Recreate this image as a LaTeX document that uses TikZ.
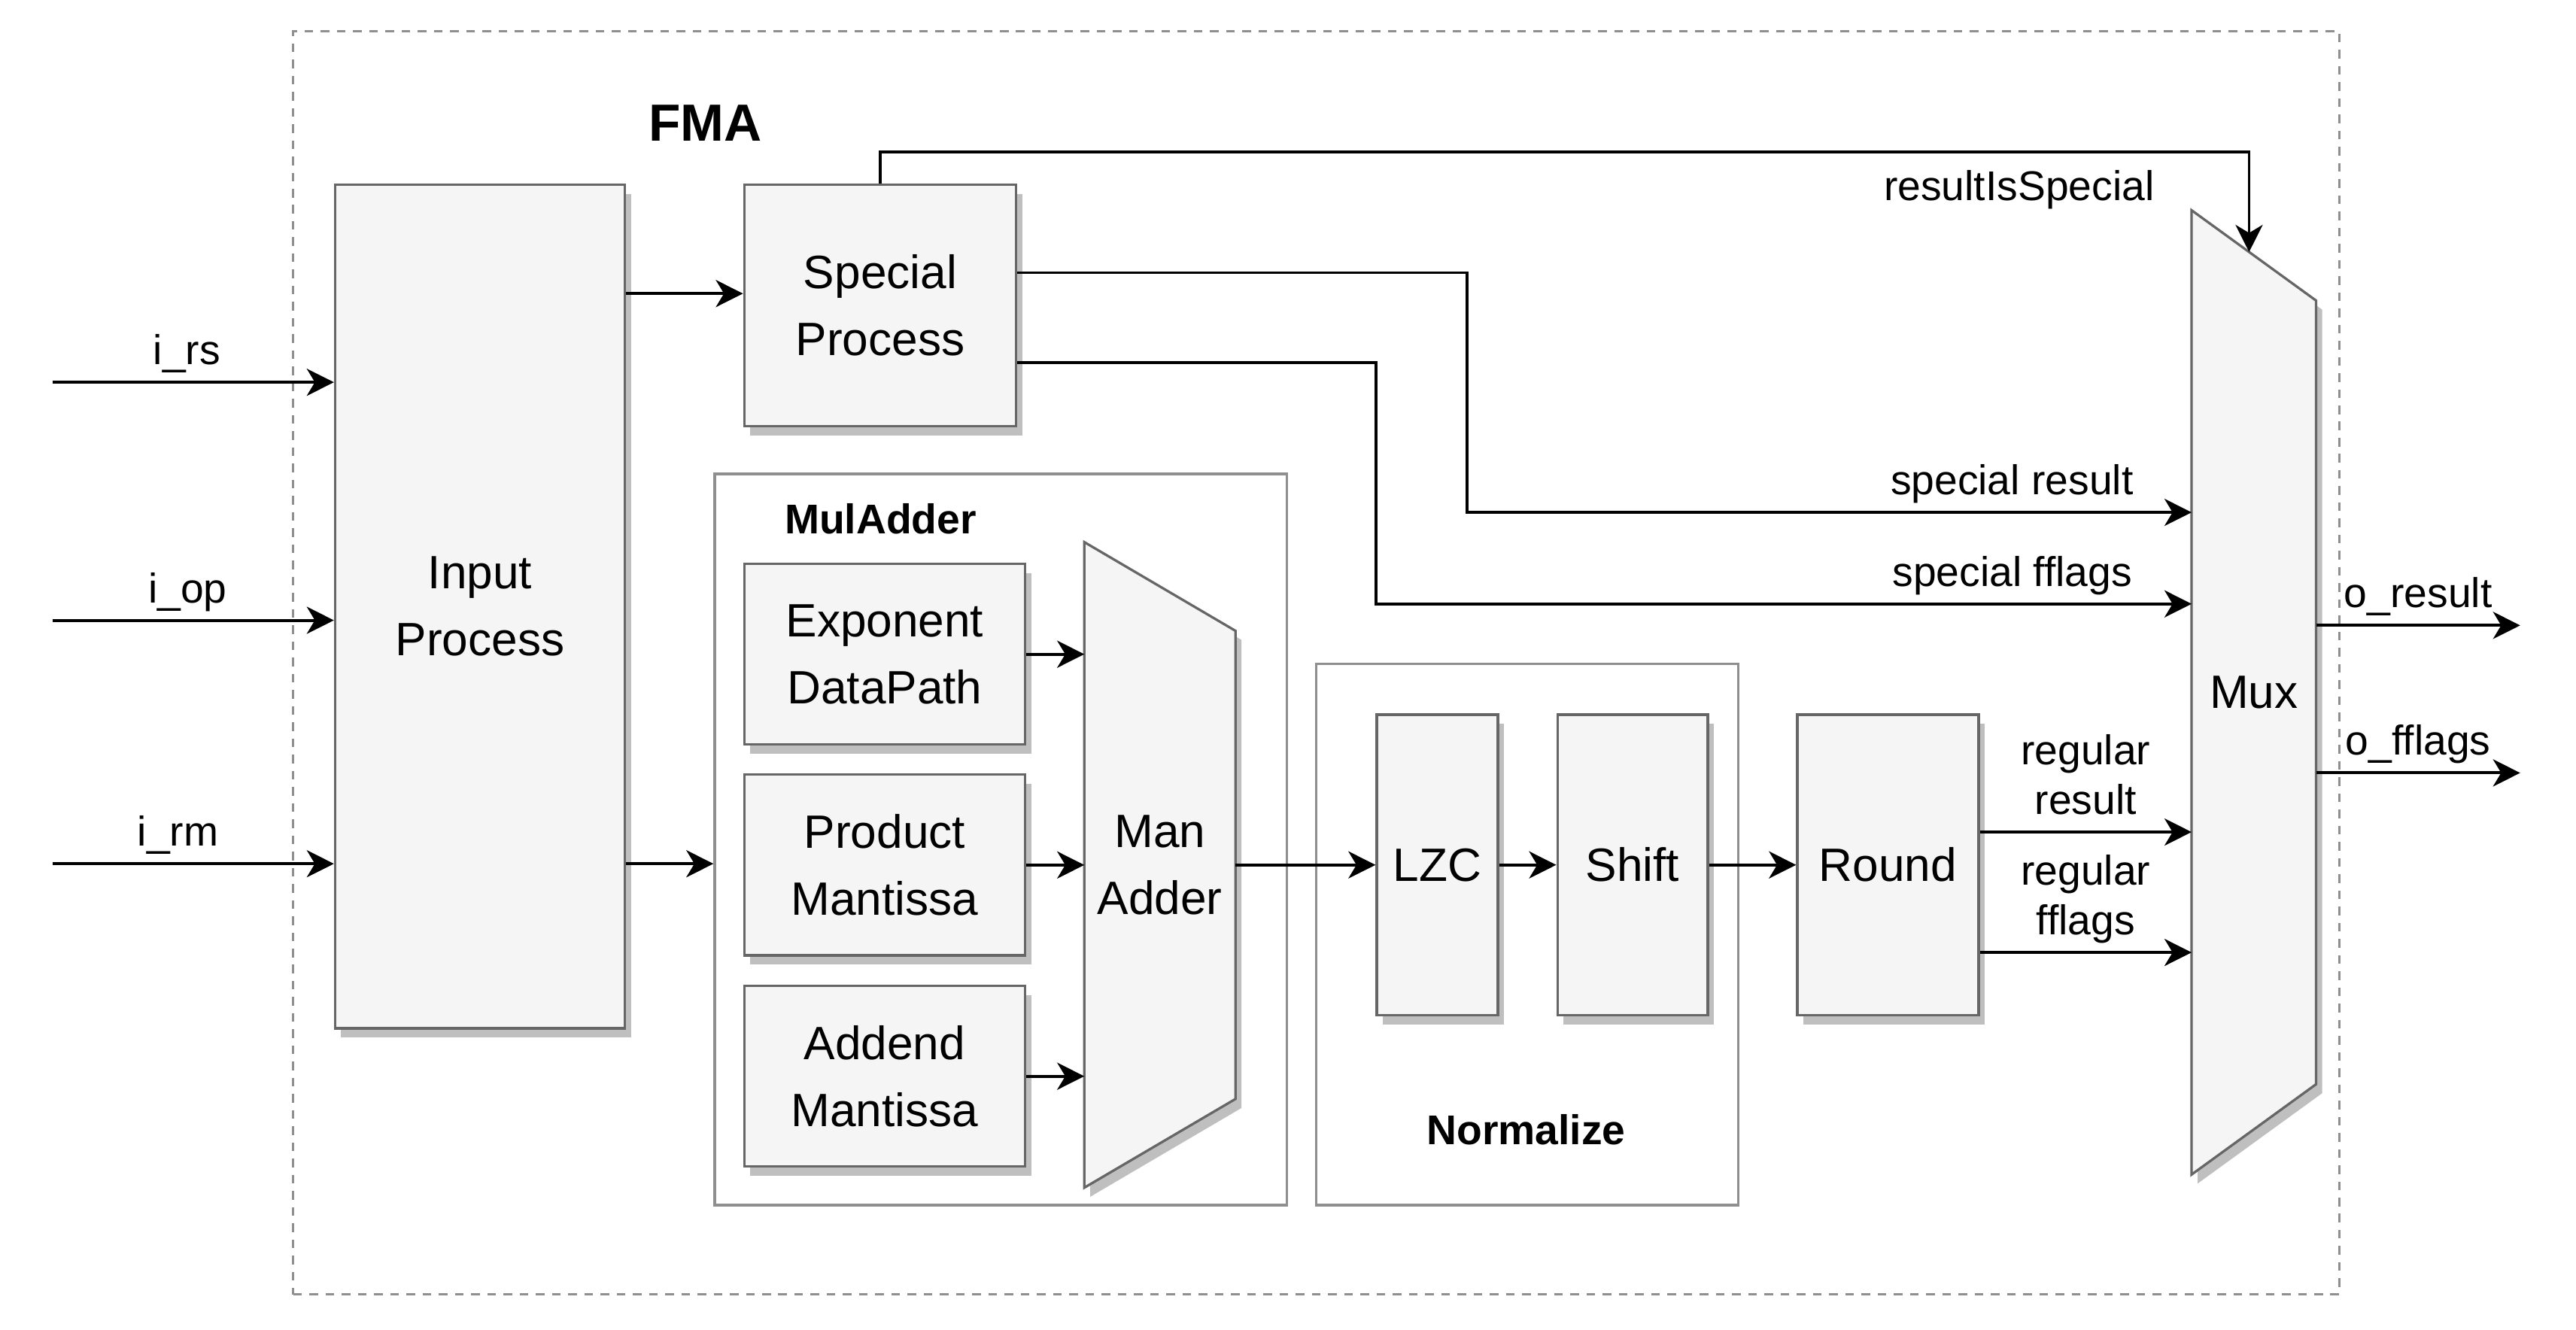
\documentclass[tikz,border=0pt]{standalone}
\usepackage{fontspec}
\setmainfont{Liberation Sans}
\usetikzlibrary{arrows.meta,calc,shadows,backgrounds}
\definecolor{boxfill}{HTML}{F5F5F5}
\definecolor{boxline}{HTML}{666666}
\definecolor{shadowgray}{HTML}{BFBFBF}
\definecolor{frameline}{HTML}{8F8F8F}
\newcommand{\boxfont}{\fontsize{16.2pt}{23.2pt}\selectfont}
\newcommand{\lblfont}{\fontsize{14.4pt}{17.1pt}\selectfont}
\tikzset{block/.style={draw=boxline, fill=boxfill, line width=0.85pt, inner sep=0pt,
    align=center, font=\boxfont,
    drop shadow={shadow xshift=0.073cm, shadow yshift=-0.11cm, fill=shadowgray, opacity=1}},
  trap/.style={draw=boxline, fill=boxfill, line width=0.85pt,
    drop shadow={shadow xshift=0.073cm, shadow yshift=-0.11cm, fill=shadowgray, opacity=1}},
  trapnode/.style={inner sep=0pt, outer sep=0pt, align=center, font=\boxfont},
  groupbox/.style={draw=frameline, line width=0.85pt, inner sep=0pt},
  fmaframe/.style={draw=frameline, line width=0.85pt, dash pattern=on 3pt off 2.6pt, inner sep=0pt},
  grouptitle/.style={font=\fontsize{14.4pt}{17pt}\selectfont\bfseries, inner sep=0pt},
  wire/.style={line width=1.04pt, -{Stealth[length=0.33cm, width=0.33cm, inset=0.098cm]}},
  lbl/.style={font=\lblfont, text height=10.8pt, text depth=3.6pt, inner sep=2pt},
  lbl2/.style={font=\lblfont, align=center, inner sep=0.6pt}}

\begin{document}
\begin{tikzpicture}
        \useasboundingbox (0,0) rectangle (31.36,-16.19);

        \node[fmaframe, minimum width=24.906cm, minimum height=15.382cm] (fma) at (16.023,-8.069) {};
        \node[font=\fontsize{18.1pt}{22pt}\selectfont\bfseries] (fmatitle) at (8.586,-1.5) {FMA};

        \node[groupbox, minimum width=6.966cm, minimum height=8.902cm] (muladd) at (12.183,-10.221) {};
        \node[grouptitle] (muladdtitle) at (10.72,-6.32) {MulAdder};
        \node[groupbox, minimum width=5.134cm, minimum height=6.592cm] (norm) at (18.593,-11.376) {};
        \node[grouptitle] (normtitle) at (18.58,-13.754) {Normalize};

        \node[block, minimum width=3.528cm, minimum height=10.27cm] (input) at (5.844,-7.385) {Input\\Process};
        \node[block, minimum width=3.31cm, minimum height=2.94cm] (special) at (10.715,-3.72) {Special\\Process};
        \node[block, minimum width=3.42cm, minimum height=2.2cm] (expo) at (10.77,-7.965) {Exponent\\DataPath};
        \node[block, minimum width=3.42cm, minimum height=2.2cm] (prod) at (10.77,-10.531) {Product\\Mantissa};
        \node[block, minimum width=3.42cm, minimum height=2.2cm] (addend) at (10.77,-13.103) {Addend\\Mantissa};
        \node[block, minimum width=1.474cm, minimum height=3.66cm] (lzc) at (17.497,-10.53) {LZC};
        \node[block, minimum width=1.83cm, minimum height=3.66cm] (shift) at (19.875,-10.53) {Shift};
        \node[block, minimum width=2.208cm, minimum height=3.66cm] (round) at (22.984,-10.53) {Round};

        \node[trapnode, minimum width=1.84cm, minimum height=7.86cm] (adder) at (14.12,-10.53) {Man\\Adder};
        \node[trapnode, minimum width=1.516cm, minimum height=11.74cm] (mux) at (27.438,-8.43) {Mux};
        \begin{scope}[on background layer]
        \draw[trap] (adder.north west) -- ([yshift=-1.08cm]adder.north east)
              -- ([yshift=1.08cm]adder.south east) -- (adder.south west) -- cycle;
        \draw[trap] (mux.north west) -- ([yshift=-1.1cm]mux.north east)
              -- ([yshift=1.1cm]mux.south east) -- (mux.south west) -- cycle;
        \end{scope}

        \coordinate (irs) at (0.64,-4.654);
        \coordinate (iop) at (0.64,-7.552);
        \coordinate (irm) at (0.64,-10.516);
        \coordinate (spin) at ([yshift=0.146cm]special.west);
        \coordinate (muxne) at ([yshift=-1.1cm]mux.north east);
        \coordinate (risend) at ($(mux.north west)!0.4617!(muxne)$);
        \coordinate (ristop) at (risend |- 0,-1.848);
        \coordinate (sres) at (17.86,-6.238);
        \coordinate (sflg) at (16.752,-7.352);
        \coordinate (rres) at ([yshift=0.4cm]round.east);
        \coordinate (rflg) at ([yshift=-1.066cm]round.east);
        \coordinate (ores) at (30.68,-7.614);
        \coordinate (oflg) at (30.68,-9.41);

        \draw (irs) edge[wire] node[lbl, above, pos=0.477] (lirs) {i\_rs} (irs -| input.west)
              (iop) edge[wire] node[lbl, above, pos=0.48] (liop) {i\_op} (iop -| input.west)
              (irm) edge[wire] node[lbl, above, pos=0.446] (lirm) {i\_rm} (irm -| input.west)

              (spin -| input.east) edge[wire] (spin)
              (irm -| input.east) edge[wire] (irm -| muladd.west)
              (expo.east) edge[wire] (expo -| adder.west)
              (prod.east) edge[wire] (prod -| adder.west)
              (addend.east) edge[wire] (addend -| adder.west)
              (adder.east) edge[wire] (lzc.west)
              (lzc.east) edge[wire] (shift.west)
              (shift.east) edge[wire] (round.west)

              (rres) edge[wire] node[lbl2, above] (lrres) {regular\\result\strut} (rres -| mux.west)
              (rflg) edge[wire] node[lbl2, above] (lrflg) {regular\\fflags\strut} (rflg -| mux.west)
              (ores -| mux.east) edge[wire] node[lbl, above] (lores) {o\_result} (ores)
              (oflg -| mux.east) edge[wire] node[lbl, above] (loflg) {o\_fflags} (oflg)
              ;

        \draw[wire] (special.north) |- node[lbl, below=3.5pt, pos=0.916] (lris) {resultIsSpecial} (ristop) -- (risend);
        \draw[wire] ([yshift=0.4cm]special.east) -| (sres)
              -- node[lbl, above, pos=0.752] (lsres) {special result} (sres -| mux.west);
        \draw[wire] ([yshift=-0.696cm]special.east) -| (sflg)
              -- node[lbl, above, pos=0.78] (lsflg) {special fflags} (sflg -| mux.west);
    \end{tikzpicture}
\end{document}
